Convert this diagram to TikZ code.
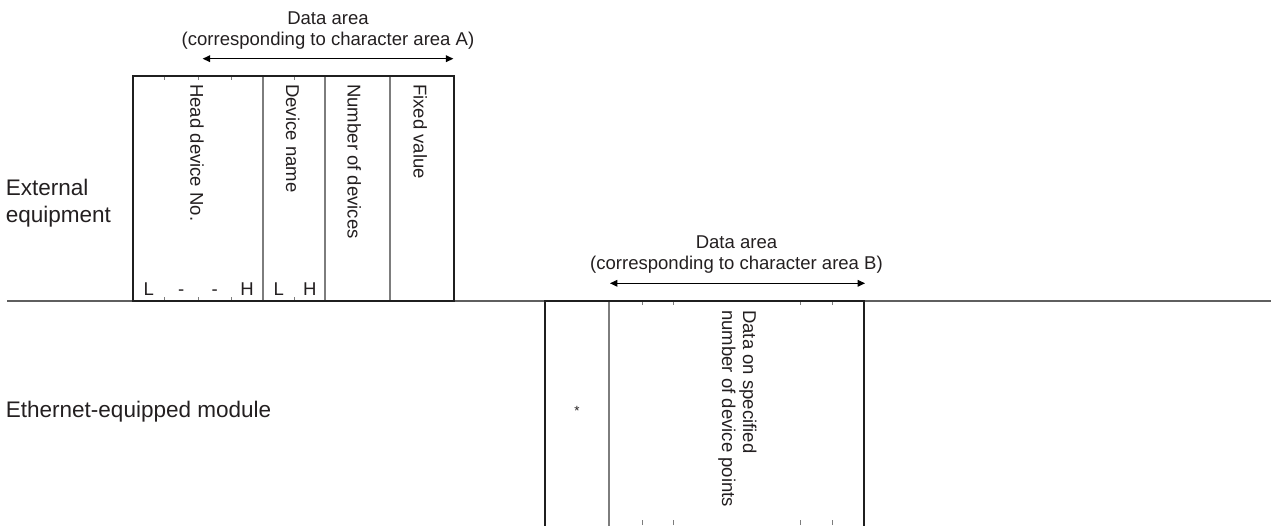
\documentclass[tikz,border=0pt]{standalone}
\usepackage{fontspec}
\setmainfont{Liberation Sans}
\usetikzlibrary{arrows.meta}
\definecolor{txt}{RGB}{35,31,32}
\definecolor{sepc}{RGB}{125,125,125}
\definecolor{groundc}{RGB}{95,95,95}
\begin{document}
\begin{tikzpicture}[x=0.75pt,y=-0.75pt,
  lbl/.style={font=\fontsize{13.9}{16}\selectfont, text=txt, inner sep=0pt},
  big/.style={font=\fontsize{16.9}{20}\selectfont, text=txt, inner sep=0pt, anchor=base west},
  vlbl/.style={lbl, rotate=-90, anchor=base west},
  cell/.style={lbl, anchor=base},
  outerbox/.style={draw=black!88, line width=1.5pt},
  sepline/.style={draw=sepc, line width=0.8pt},
  tickline/.style={draw=sepc, line width=0.7pt},
  groundline/.style={draw=groundc, line width=1.1pt},
  span/.style={draw=black, line width=0.75pt, {Triangle[length=5.5pt,width=5pt]}-{Triangle[length=5.5pt,width=5pt]}},
]
\useasboundingbox (0,0) rectangle (1271,525);

% base line between external equipment and module
\coordinate (gL) at (7,301);
\coordinate (gR) at (1271,301);
\draw[groundline] (gL) -- (gR);

% ---------- box A ----------
\coordinate (A-nw) at (132.7,75.7);
\coordinate (A-se) at (454,301);
\foreach \x in {263,325,390} \draw[sepline] (\x,75.7) -- (\x,301);
\foreach \x in {164.7,198,231.3,294.7} {
  \draw[tickline] (\x,75.7) -- ++(0,4);
  \draw[tickline] (\x,301) -- ++(0,-4);
}
\draw[outerbox] (A-nw) rectangle (A-se);

\node[vlbl] (hd) at (190.3,84) {Head device No.};
\node[vlbl] (dn) at (286,84) {Device name};
\node[vlbl] (nd) at (347.5,84) {Number of devices};
\node[vlbl] (fv) at (413.5,84) {Fixed value};

\node[cell] (c1) at (148.7,295) {L};
\node[cell] (c2) at (181.3,295) {-};
\node[cell] (c3) at (214.7,295) {-};
\node[cell] (c4) at (247,295) {H};
\node[cell] (c5) at (278.8,295) {L};
\node[cell] (c6) at (309.9,295) {H};

% span arrow A
\coordinate (aL) at (202.7,58.7);
\coordinate (aR) at (453.3,58.7);
\draw[span] (aL) -- (aR);
\node[lbl, anchor=base] (tA1) at (328,24) {Data area};
\node[lbl, anchor=base] (tA2) at (328,45.5) {(corresponding to character area A)};

% ---------- box B ----------
\draw[sepline] (609,301) -- (609,530);
\foreach \x in {642,673,800,832} {
  \draw[tickline] (\x,301) -- ++(0,4);
  \draw[tickline] (\x,525) -- ++(0,-5);
}
\draw[outerbox] (545,530) -- (545,301) -- (864,301) -- (864,530);

\node[lbl, font=\fontsize{10}{12}\selectfont, anchor=base] (star) at (577,415.5) {*};
\node[vlbl] (d1) at (743,310) {Data on specified};
\node[vlbl] (d2) at (722,310) {number of device points};

% span arrow B
\coordinate (bL) at (610,283.3);
\coordinate (bR) at (865,283.3);
\draw[span] (bL) -- (bR);
\node[lbl, anchor=base] (tB1) at (736.5,248) {Data area};
\node[lbl, anchor=base] (tB2) at (736.5,269.5) {(corresponding to character area B)};

% ---------- side labels ----------
\node[big] (ext1) at (5.5,195) {External};
\node[big] (ext2) at (5.5,222) {equipment};
\node[big] (eth) at (5.5,417.3) {Ethernet-equipped module};
\end{tikzpicture}
\end{document}
